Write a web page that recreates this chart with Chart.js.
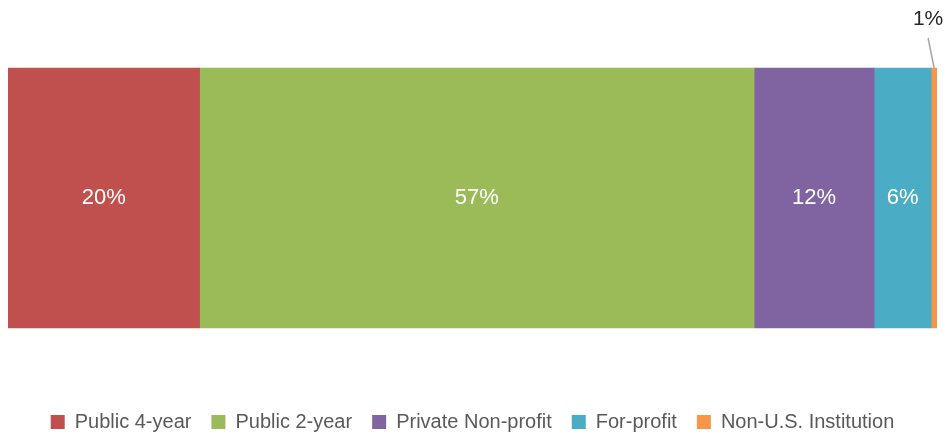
<!DOCTYPE html>
<html>
<head>
<meta charset="utf-8">
<script src="https://cdn.jsdelivr.net/npm/chart.js@4/dist/chart.umd.min.js"></script>
<style>
  html, body { margin: 0; padding: 0; background: #fff; }
  #wrap { width: 949px; height: 435px; }
</style>
</head>
<body>
<div id="wrap"><canvas id="chart"></canvas></div>
<script>
const categories = ['Public 4-year', 'Public 2-year', 'Private Non-profit', 'For-profit', 'Non-U.S. Institution'];
const shares = [19.8, 57.3, 12.4, 5.9, 0.6];
const shareLabels = ['20%', '57%', '12%', '6%', '1%'];
const colors = ['#C0504D', '#9BBB59', '#8064A2', '#4BACC6', '#F79646'];

const FONT = "'Liberation Sans', 'DejaVu Sans', sans-serif";
const total = shares.reduce((a, b) => a + b, 0);

// white labels inside bars, small slices get a leader line above
const labelPlugin = {
  id: 'sliceLabels',
  afterDatasetsDraw(chart) {
    const ctx = chart.ctx;
    ctx.save();
    ctx.textAlign = 'center';
    ctx.textBaseline = 'middle';
    chart.data.datasets.forEach((ds, i) => {
      const bar = chart.getDatasetMeta(i).data[0];
      const left = Math.min(bar.x, bar.base), right = Math.max(bar.x, bar.base);
      const cx = (left + right) / 2;
      if (right - left > 30) {
        ctx.fillStyle = '#ffffff';
        ctx.font = '22px ' + FONT;
        ctx.fillText(shareLabels[i], cx, bar.y);
      } else {
        const top = bar.y - bar.height / 2;
        ctx.strokeStyle = '#A6A6A6';
        ctx.lineWidth = 1.5;
        ctx.beginPath();
        ctx.moveTo(cx, top);
        ctx.lineTo(cx - 6, top - 30);
        ctx.stroke();
        ctx.fillStyle = '#262626';
        ctx.font = '21px ' + FONT;
        ctx.fillText(shareLabels[i], cx - 6, top - 49);
      }
    });
    ctx.restore();
  }
};

// legend sits a bit lower than chart.js would put it
const legendSqueeze = {
  id: 'legendSqueeze',
  beforeLayout(chart) {
    const lg = chart.legend;
    if (!lg || lg._squeezed) return;
    const fit = lg.fit;
    lg.fit = function () { fit.call(this); this.height -= 7; };
    lg._squeezed = true;
  }
};

new Chart(document.getElementById('chart'), {
  type: 'bar',
  data: {
    labels: [''],
    datasets: categories.map((c, i) => ({
      label: c,
      data: [shares[i]],
      backgroundColor: colors[i],
      borderWidth: 0,
      barThickness: 260
    }))
  },
  options: {
    indexAxis: 'y',
    responsive: true,
    maintainAspectRatio: false,
    animation: false,
    layout: { padding: { left: 8, right: 12, top: 4, bottom: 0 } },
    scales: {
      x: { stacked: true, display: false, min: 0, max: total },
      y: { stacked: true, display: false }
    },
    plugins: {
      tooltip: { enabled: false },
      legend: {
        position: 'bottom',
        labels: {
          color: '#595959',
          font: { family: FONT, size: 20 },
          boxWidth: 14,
          boxHeight: 14,
          padding: 20
        }
      }
    }
  },
  plugins: [labelPlugin, legendSqueeze]
});
</script>
</body>
</html>
